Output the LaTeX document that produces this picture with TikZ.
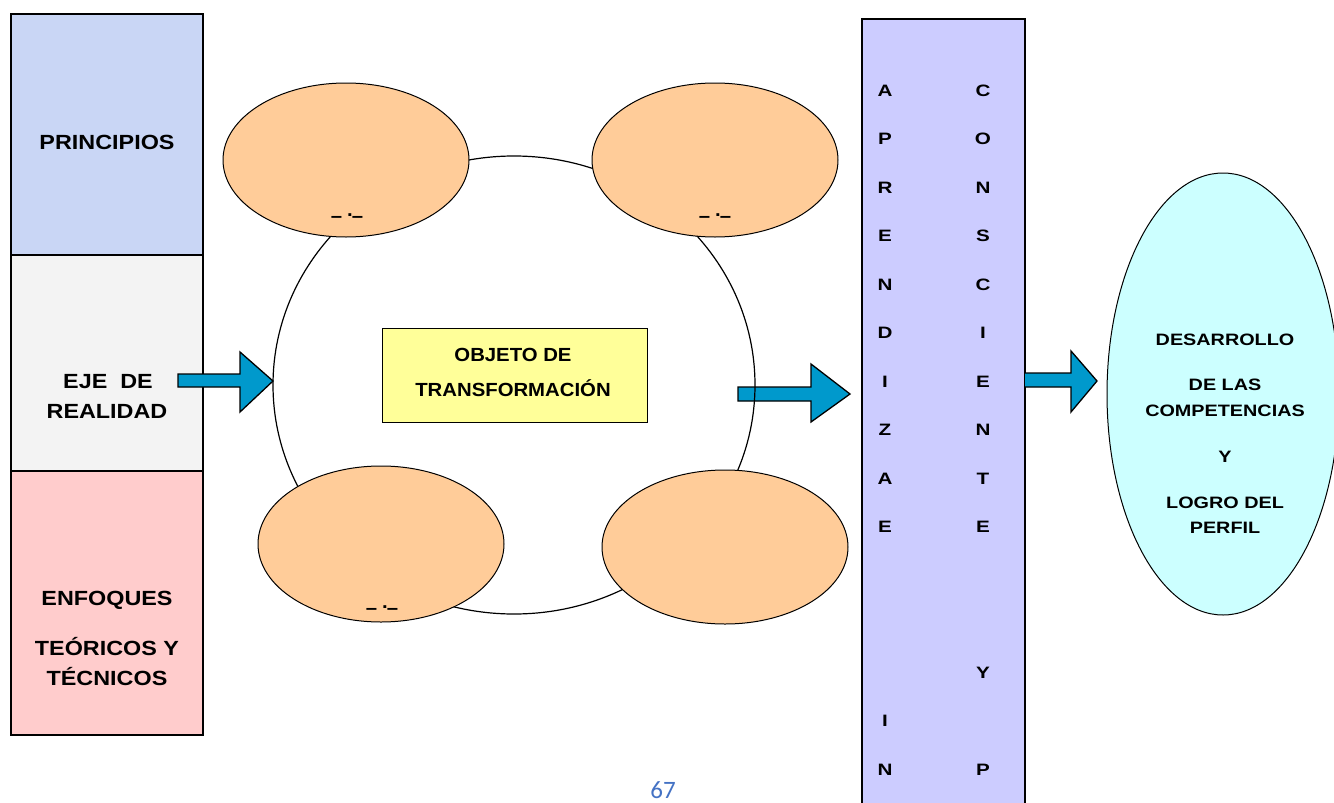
\documentclass[tikz,border=0pt]{standalone}
\usepackage{fontspec}
\setmainfont{Liberation Sans}
\newfontfamily\fL{Liberation Sans}[FakeStretch=1.14]
\newfontfamily\fA{Liberation Sans}[FakeStretch=1.07]
\newfontfamily\fB{Liberation Sans}[FakeStretch=1.2]
\newfontfamily\fC{Liberation Sans}[FakeStretch=1.25]
\newfontfamily\fpage{Carlito}
\usetikzlibrary{shapes.geometric}
\definecolor{boxblue}{RGB}{201,214,245}
\definecolor{boxgray}{RGB}{243,243,243}
\definecolor{boxpink}{RGB}{255,204,204}
\definecolor{orangefill}{RGB}{255,204,153}
\definecolor{yellowfill}{RGB}{255,255,153}
\definecolor{purplefill}{RGB}{204,204,255}
\definecolor{cyanfill}{RGB}{204,255,255}
\definecolor{arrowblue}{RGB}{0,153,204}
\definecolor{pageblue}{RGB}{68,114,196}
\tikzset{
  panellbl/.style={anchor=base, inner sep=0pt, font=\fL\bfseries\fontsize{20.5}{24}\selectfont},
  lbl/.style={anchor=base, inner sep=0pt, font=\fA\bfseries\fontsize{19}{22}\selectfont},
  wlbl/.style={anchor=base, inner sep=0pt, font=\fB\bfseries\fontsize{16.5}{20}\selectfont},
  colletter/.style={anchor=base, inner sep=0pt, font=\fC\bfseries\fontsize{16.5}{20}\selectfont},
  dashlbl/.style={anchor=base, inner sep=0pt, font=\fA\bfseries\fontsize{19}{22}\selectfont},
  panel/.style={draw=black, line width=1.5pt},
  oval/.style={ellipse, draw=black, line width=1pt, fill=orangefill, inner sep=0pt, minimum width=246pt, minimum height=154pt},
  blockarrow/.style={draw=black, line width=1.3pt, fill=arrowblue, line join=miter}
}
\begin{document}
\begin{tikzpicture}[x=1pt,y=-1pt]
\useasboundingbox (0,0) rectangle (1334,803);
\fill[white] (0,0) rectangle (1334,803);

% left panels
\node[panel, fill=boxblue, minimum width=192pt, minimum height=241pt, inner sep=0pt] (p1) at (107,134.5) {};
\node[panel, fill=boxgray, minimum width=192pt, minimum height=216pt, inner sep=0pt] (p2) at (107,363) {};
\node[panel, fill=boxpink, minimum width=192pt, minimum height=264pt, inner sep=0pt] (p3) at (107,603) {};
\node[panellbl] (t1) at (107,149.5) {PRINCIPIOS};
\node[panellbl] (t2a) at (108,388.5) {EJE\ \ DE};
\node[panellbl] (t2b) at (107,418.5) {REALIDAD};
\node[panellbl] (t3a) at (107,605.5) {ENFOQUES};
\node[panellbl] (t3b) at (107,655.5) {TEÓRICOS Y};
\node[panellbl] (t3c) at (107,685.5) {TÉCNICOS};

% arrow 1
\draw[blockarrow] (178,374) -- (240,374) -- (240,352) -- (273,381) -- (240,412) -- (240,387) -- (178,387) -- cycle;

% arrow 2 (under the circle line)
\draw[blockarrow] (738,387) -- (811,387) -- (811,364) -- (850,394) -- (811,422) -- (811,401) -- (738,401) -- cycle;

% big circle
\draw[line width=1.2pt] (514,385) ellipse [x radius=241, y radius=229];

% ellipses
\node[oval] (e1) at (346,160) {};
\node[oval] (e2) at (715,160) {};
\node[oval, minimum height=156pt] (e3) at (381,544) {};
\node[oval] (e4) at (725,547) {};
\node[dashlbl] (d1) at (347,222) {–\hspace{5pt}\raisebox{5.5pt}{.}\hspace{-1pt}–};
\node[dashlbl] (d2) at (715,222) {–\hspace{5pt}\raisebox{5.5pt}{.}\hspace{-1pt}–};
\node[dashlbl] (d3) at (382,614) {–\hspace{5pt}\raisebox{5.5pt}{.}\hspace{-1pt}–};

% central box
\node[draw=black, line width=1pt, fill=yellowfill, minimum width=265pt, minimum height=94pt, inner sep=0pt] (obj) at (514.5,375) {};
\node[lbl] (o1) at (513,361) {OBJETO DE};
\node[lbl] (o2) at (513,396) {TRANSFORMACIÓN};

% purple column
\fill[purplefill] (862,19) rectangle (1025,810);
\draw[line width=1.2pt] (862,810) -- (862,19) -- (1025,19) -- (1025,810);
\foreach \L [count=\i from 0] in {A,P,R,E,N,D,I,Z,A,E}
  \node[colletter] (la\i) at (885,96+48.5*\i) {\L};
\foreach \L [count=\i from 0] in {C,O,N,S,C,I,E,N,T,E}
  \node[colletter] (lc\i) at (983,96+48.5*\i) {\L};
\node[colletter] (ly) at (983,678) {Y};
\node[colletter] (li) at (885,726.5) {I};
\node[colletter] (ln) at (885,775) {N};
\node[colletter] (lp) at (983,775) {P};

% arrow 3
\draw[blockarrow] (1025,373) -- (1071,373) -- (1071,351) -- (1097,381) -- (1071,412) -- (1071,387) -- (1025,387);
\fill[arrowblue] (1025.6,373.6) rectangle (1030,386.4);

% right ellipse
\node[ellipse, draw=black, line width=1pt, fill=cyanfill, inner sep=0pt, minimum width=232pt, minimum height=442pt] (goal) at (1223,394) {};
\node[wlbl] (g1) at (1225,345) {DESARROLLO};
\node[wlbl] (g2) at (1225,390) {DE LAS};
\node[wlbl] (g3) at (1225,416) {COMPETENCIAS};
\node[wlbl] (g4) at (1225,462) {Y};
\node[wlbl] (g5) at (1225,508) {LOGRO DEL};
\node[wlbl] (g6) at (1225,533) {PERFIL};

% page number
\node[inner sep=0pt, text=pageblue, font=\fpage\fontsize{25}{28}\selectfont] (pg) at (663,790) {67};
\end{tikzpicture}
\end{document}
